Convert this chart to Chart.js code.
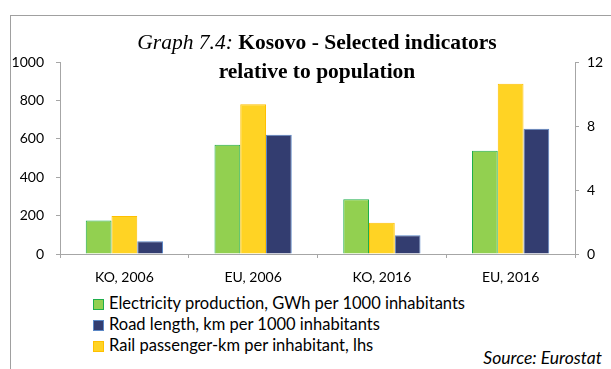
<!DOCTYPE html>
<html>
<head>
<meta charset="utf-8">
<script src="https://cdn.jsdelivr.net/npm/chart.js@4.4.1/dist/chart.umd.min.js"></script>
<style>
  html, body { margin: 0; padding: 0; background: #fff; }
  #wrap { position: relative; width: 611px; height: 369px; overflow: hidden; font-family: Lato, "Open Sans", sans-serif; }
  #frame { position: absolute; left: 10px; top: 15px; right: -2px; bottom: -2px; border-top: 1px solid #a0a0a0; border-left: 1px solid #a0a0a0; }
  #title { position: absolute; left: 0; width: 634px; top: 28px; text-align: center; font-family: "Liberation Serif", "DejaVu Serif", serif; font-size: 21.5px; line-height: 29px; color: #000; }
  #title i { font-weight: normal; }
  #title b { font-weight: bold; }
  #chart { position: absolute; left: 0; top: 0; }
  #legend { position: absolute; left: 93px; top: 293px; font-size: 16.5px; color: #000; }
  .item { height: 21px; line-height: 21px; white-space: nowrap; }
  .box { display: inline-block; width: 9px; height: 9px; border: 1px solid; margin-right: 5px; vertical-align: -1px; }
  #source { position: absolute; right: 9px; top: 347px; font-size: 17.5px; font-style: italic; color: #000; }
</style>
</head>
<body>
<div id="wrap">
  <div id="frame"></div>
  <canvas id="chart" width="611" height="290"></canvas>
  <div id="title"><i>Graph 7.4:</i> <b>Kosovo - Selected indicators<br>relative to population</b></div>
  <div id="legend"></div>
  <div id="source">Source: Eurostat</div>
</div>
<script>
/* ---------- data ---------- */
const categories = ["KO, 2006", "EU, 2006", "KO, 2016", "EU, 2016"];
const electricity = [2.1, 6.83, 3.42, 6.46];   // GWh per 1000 inhabitants (rhs)
const rail = [198, 780, 163, 887];             // passenger-km per inhabitant (lhs)
const road = [0.79, 7.46, 1.17, 7.83];         // km per 1000 inhabitants (rhs)
const leftTicks = [0, 200, 400, 600, 800, 1000];
const rightTicks = [0, 4, 8, 12];

const series = [
  { label: "Electricity production, GWh per 1000 inhabitants", data: electricity, axis: "y1", fill: "#92D050", line: "#1FAE4B" },
  { label: "Rail passenger-km per inhabitant, lhs", data: rail, axis: "y", fill: "#FFD324", line: "#FFC000" },
  { label: "Road length, km per 1000 inhabitants", data: road, axis: "y1", fill: "#333D70", line: "#5B87C5" }
];
const legendOrder = [0, 2, 1];

const tickFont = { family: "Lato, 'Open Sans', sans-serif", size: 14 };
const axisGray = "#a6a6a6";
const plain = v => String(v);

new Chart(document.getElementById("chart"), {
  type: "bar",
  data: {
    labels: categories,
    datasets: series.map(s => ({
      label: s.label,
      data: s.data,
      yAxisID: s.axis,
      backgroundColor: s.fill,
      borderColor: s.line,
      borderWidth: 1,
      categoryPercentage: 0.6,
      barPercentage: 1
    }))
  },
  options: {
    responsive: false,
    animation: false,
    layout: { padding: { top: 62, left: 0, right: 0, bottom: 0 } },
    plugins: { legend: { display: false }, tooltip: { enabled: false } },
    scales: {
      x: {
        grid: { drawOnChartArea: false, drawTicks: true, tickLength: 4, color: axisGray, offset: true },
        border: { color: axisGray },
        ticks: { color: "#000", font: tickFont, padding: 11 },
        afterFit: s => { s.height = 36; }
      },
      y: {
        position: "left",
        min: 0, max: 1000,
        afterBuildTicks: s => { s.ticks = leftTicks.map(v => ({ value: v })); },
        grid: { drawOnChartArea: false, drawTicks: true, tickLength: 4, color: axisGray },
        border: { color: axisGray },
        ticks: { color: "#000", font: tickFont, padding: 12, callback: plain },
        afterFit: s => { s.width = 60; }
      },
      y1: {
        position: "right",
        min: 0, max: 12,
        afterBuildTicks: s => { s.ticks = rightTicks.map(v => ({ value: v })); },
        grid: { drawOnChartArea: false, drawTicks: true, tickLength: 4, color: axisGray },
        border: { color: axisGray },
        ticks: { color: "#000", font: tickFont, padding: 8, callback: plain },
        afterFit: s => { s.width = 36; }
      }
    }
  }
});

/* ---------- legend (one entry per line) ---------- */
const legend = document.getElementById("legend");
legendOrder.forEach(i => {
  const s = series[i];
  const row = document.createElement("div");
  row.className = "item";
  const box = document.createElement("span");
  box.className = "box";
  box.style.background = s.fill;
  box.style.borderColor = s.line;
  row.appendChild(box);
  row.appendChild(document.createTextNode(s.label));
  legend.appendChild(row);
});
</script>
</body>
</html>
